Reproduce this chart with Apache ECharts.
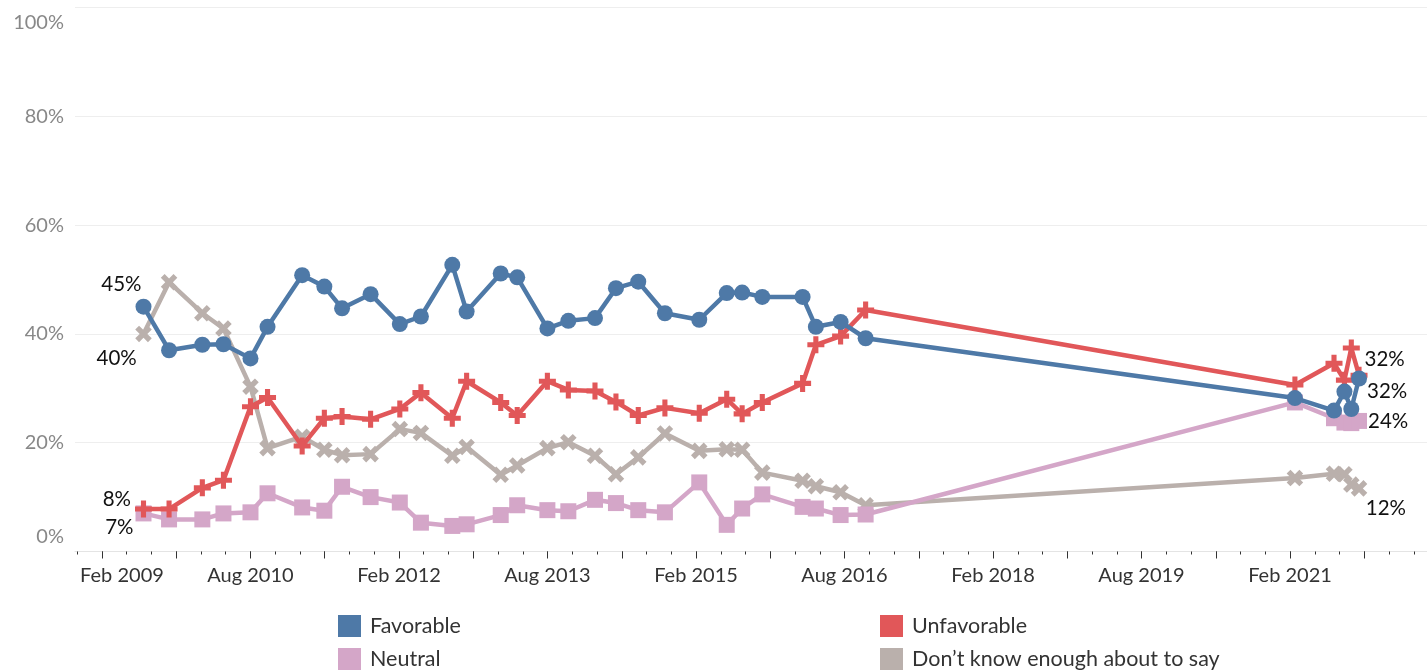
<!DOCTYPE html>
<html>
<head>
<meta charset="utf-8">
<script src="https://cdn.jsdelivr.net/npm/echarts@6/dist/echarts.min.js"></script>
<style>
html, body { margin: 0; padding: 0; background: #fff; }
#chart { width: 1427px; height: 670px; }
</style>
</head>
<body>
<div id="chart"></div>
<script>
// survey dates (one per poll)
const surveyDates = [
  "2009-07-02", "2009-10-05", "2010-02-06", "2010-04-23", "2010-08-01", "2010-10-03",
  "2011-02-09", "2011-04-30", "2011-07-04", "2011-10-18", "2012-02-04", "2012-04-21",
  "2012-08-15", "2012-10-07", "2013-02-11", "2013-04-11", "2013-07-31", "2013-10-17",
  "2014-01-24", "2014-04-10", "2014-07-01", "2014-10-08", "2015-02-13", "2015-05-23",
  "2015-07-19", "2015-10-02", "2016-02-29", "2016-04-17", "2016-07-17", "2016-10-18",
  "2021-02-19", "2021-07-11", "2021-08-19", "2021-09-14", "2021-10-12"
];

const favorable = [45.0, 37.0, 38.0, 38.1, 35.5, 41.3, 50.8, 48.7, 44.7, 47.3, 41.8, 43.2,
  52.7, 44.1, 51.1, 50.4, 41.0, 42.4, 42.9, 48.4, 49.6, 43.8, 42.6, 47.5,
  47.6, 46.8, 46.8, 41.3, 42.2, 39.2, 28.2, 25.9, 29.4, 26.2, 31.8];
const unfavorable = [7.8, 7.8, 11.7, 13.1, 26.6, 28.3, 19.4, 24.5, 24.8, 24.3, 26.2, 29.2,
  24.5, 31.3, 27.4, 25.0, 31.3, 29.7, 29.5, 27.5, 25.0, 26.4, 25.4, 28.0,
  25.3, 27.4, 30.9, 38.0, 39.6, 44.4, 30.6, 34.6, 31.5, 37.4, 32.4];
const neutral = [7.0, 5.9, 5.9, 7.0, 7.2, 10.7, 8.1, 7.5, 11.9, 10.0, 9.0, 5.3,
  4.7, 5.0, 6.7, 8.5, 7.6, 7.4, 9.5, 8.9, 7.6, 7.2, 12.7, 4.9,
  7.9, 10.5, 8.2, 7.9, 6.7, 6.8, 27.4, 24.5, 23.7, 23.6, 24.0];
const dontKnow = [40.0, 49.5, 43.8, 41.0, 30.3, 19.0, 21.1, 18.7, 17.7, 17.9, 22.5, 21.8,
  17.6, 19.2, 14.1, 15.8, 19.0, 20.1, 17.6, 14.2, 17.3, 21.7, 18.5, 18.8,
  18.7, 14.5, 13.0, 12.0, 10.9, 8.5, 13.5, 14.3, 14.2, 12.3, 11.6];

const xTickLabels = ["Feb 2009", "Aug 2010", "Feb 2012", "Aug 2013", "Feb 2015",
  "Aug 2016", "Feb 2018", "Aug 2019", "Feb 2021"];

const MONTHS = ["Jan","Feb","Mar","Apr","May","Jun","Jul","Aug","Sep","Oct","Nov","Dec"];
const FONT = "Lato";

// months since Jan 2009
function toMonth(s) {
  let p = s.split("-").map(Number);
  return (p[0] - 2009) * 12 + (p[1] - 1) + (p[2] - 1) / 30.44;
}
function labelMonth(lbl) {
  let p = lbl.split(" ");
  return (Number(p[1]) - 2009) * 12 + MONTHS.indexOf(p[0]);
}

const xMin = -2.27, xMax = 161.6;
const labelValues = xTickLabels.map(labelMonth);
let shortTicks = [], longTicks = [];
for (let m = -2; m <= xMax; m += 3) shortTicks.push(m);
for (let m = 1; m <= xMax; m += 9) longTicks.push(m);

const plusPath = "path://M35,0H65V35H100V65H65V100H35V65H0V35H35Z";

function buildData(values, firstLabel, lastLabel) {
  let data = values.map((v, i) => [toMonth(surveyDates[i]), v]);
  let n = data.length - 1;
  data[0] = { value: data[0], label: Object.assign({ show: true }, firstLabel) };
  data[n] = { value: data[n], label: Object.assign({ show: true }, lastLabel) };
  return data;
}

const labelStyle = {
  fontFamily: FONT,
  fontSize: 20.5,
  color: "#111",
  distance: 0,
  formatter: (p) => Math.round(p.value[1]) + "%"
};

function line(name, values, color, symbol, size, rotate, firstLabel, lastLabel, z) {
  return {
    name: name,
    type: "line",
    data: buildData(values, firstLabel, lastLabel),
    symbol: symbol,
    symbolSize: size,
    symbolRotate: rotate,
    showAllSymbol: true,
    z: z,
    lineStyle: { color: color, width: 4.5 },
    itemStyle: { color: color },
    label: Object.assign({ show: false }, labelStyle),
    emphasis: { disabled: true }
  };
}

const legendText = { fontFamily: FONT, fontSize: 21.5, color: "#333", lineHeight: 22, padding: [0, 0, 0, 4] };

let myChart = echarts.init(document.getElementById("chart"));
myChart.setOption({
  animation: false,
  grid: { left: 75, right: 0, top: 7.5, bottom: 118.5 },
  xAxis: [
    {
      type: "value",
      min: xMin,
      max: xMax,
      axisLine: { show: true, lineStyle: { color: "#e4e4e4", width: 1 } },
      axisTick: { show: true, customValues: shortTicks, length: 3, lineStyle: { color: "#333" } },
      splitLine: { show: false },
      axisLabel: {
        customValues: labelValues,
        margin: 14,
        fontFamily: FONT,
        fontSize: 20,
        color: "#333",
        formatter: (v) => {
          let i = labelValues.findIndex((m) => Math.abs(m - v) < 0.01);
          if (i < 0) return "";
          // first label sits a bit right of its tick, as in the original
          return i === 0 ? "{first|" + xTickLabels[i] + "}" : xTickLabels[i];
        },
        rich: {
          first: { fontFamily: FONT, fontSize: 20, color: "#333", padding: [0, 0, 0, 40] }
        }
      }
    },
    {
      type: "value",
      min: xMin,
      max: xMax,
      position: "bottom",
      axisLine: { show: false },
      axisTick: { show: true, customValues: longTicks, length: 7, lineStyle: { color: "#333" } },
      axisLabel: { show: false },
      splitLine: { show: false }
    }
  ],
  yAxis: {
    type: "value",
    min: 0,
    max: 100,
    interval: 20,
    axisLine: { show: false },
    axisTick: { show: false },
    splitLine: { lineStyle: { color: "#eeeeee", width: 1 } },
    axisLabel: {
      margin: 11,
      fontFamily: FONT,
      fontSize: 20,
      color: "#888",
      formatter: "{value}%",
      verticalAlignMinLabel: "bottom",
      verticalAlignMaxLabel: "top",
      lineHeight: 30
    }
  },
  legend: [
    {
      data: ["Favorable", "Neutral"],
      left: 338, top: 615, height: 120,
      padding: 0,
      orient: "vertical",
      icon: "rect",
      itemWidth: 23, itemHeight: 22, itemGap: 11,
      selectedMode: false,
      textStyle: legendText
    },
    {
      data: ["Unfavorable", "Don’t know enough about to say"],
      left: 880, top: 615, height: 120,
      padding: 0,
      orient: "vertical",
      icon: "rect",
      itemWidth: 23, itemHeight: 22, itemGap: 11,
      selectedMode: false,
      textStyle: legendText
    }
  ],
  series: [
    line("Don’t know enough about to say", dontKnow, "#bab0ac", plusPath, 18, 45,
      { position: "left", offset: [6, 24] },
      { position: "right", offset: [-6, 20] }, 2),
    line("Neutral", neutral, "#d4a6c8", "rect", 16, 0,
      { position: "left", offset: [-2, 14] },
      { position: "right", offset: [1, 0] }, 3),
    line("Unfavorable", unfavorable, "#e15759", plusPath, 17, 0,
      { position: "left", offset: [-4, -10] },
      { position: "right", offset: [-3, -16] }, 4),
    line("Favorable", favorable, "#4e79a7", "circle", 16, 0,
      { position: "left", offset: [6, -22] },
      { position: "right", offset: [0, 13] }, 5)
  ]
});
</script>
</body>
</html>
